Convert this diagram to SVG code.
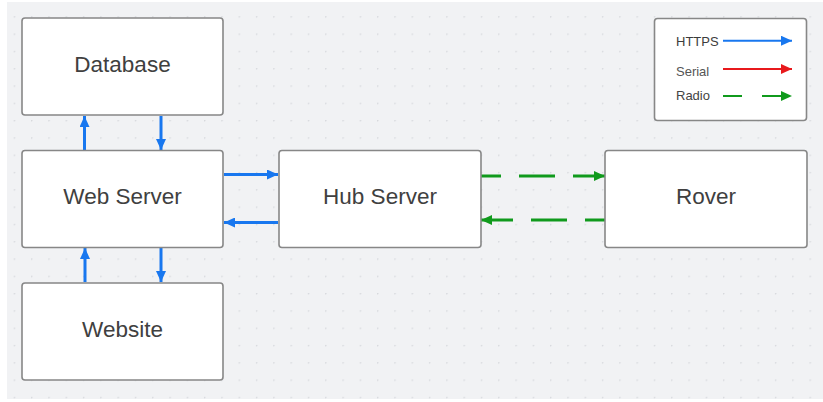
<svg xmlns="http://www.w3.org/2000/svg" width="823" height="402" viewBox="0 0 823 402">
<defs>
<pattern id="dots" x="13.7" y="16.2" width="17.3" height="17.3" patternUnits="userSpaceOnUse">
<circle cx="0.6" cy="0.6" r="0.9" fill="#d6d8dc"/>
</pattern>
<marker id="ab" markerUnits="userSpaceOnUse" markerWidth="12" markerHeight="10" refX="11" refY="5" orient="auto">
<path d="M0,0 L11,5 L0,10 Z" fill="#1877ef"/>
</marker>
<marker id="ag" markerUnits="userSpaceOnUse" markerWidth="12" markerHeight="10" refX="11" refY="5" orient="auto">
<path d="M0,0 L11,5 L0,10 Z" fill="#109a1c"/>
</marker>
<marker id="ar" markerUnits="userSpaceOnUse" markerWidth="12" markerHeight="10" refX="11" refY="5" orient="auto">
<path d="M0,0 L11,5 L0,10 Z" fill="#e8191c"/>
</marker>
</defs>
<style>
.box{fill:#ffffff;stroke:#878787;stroke-width:1.6}
.lbl{font-family:"Liberation Sans",Arial,sans-serif;font-size:22.5px;fill:#404040;text-anchor:middle}
.leg{font-family:"Liberation Sans",Arial,sans-serif;font-size:13px;fill:#3c3c3c}
.blue{stroke:#1877ef;stroke-width:3;fill:none;marker-end:url(#ab)}
.green{stroke:#109a1c;stroke-width:3;fill:none;marker-end:url(#ag);stroke-dasharray:36 18;stroke-dashoffset:16}
</style>
<rect x="0" y="0" width="823" height="402" fill="#ffffff"/>
<rect x="7" y="2" width="816" height="397" fill="#f1f2f4"/>
<rect x="7" y="2" width="816" height="397" fill="url(#dots)"/>

<g id="connectors">
<line class="blue" x1="84.5" y1="150" x2="84.5" y2="116"/>
<line class="blue" x1="161" y1="116" x2="161" y2="150"/>
<line class="blue" x1="85" y1="282" x2="85" y2="248"/>
<line class="blue" x1="161" y1="248" x2="161" y2="282"/>
<line class="blue" x1="224" y1="174.5" x2="278" y2="174.5"/>
<line class="blue" x1="278" y1="222.5" x2="224" y2="222.5"/>
<line class="green" x1="481" y1="176" x2="605" y2="176"/>
<line class="green" x1="605" y1="220" x2="481" y2="220"/>
</g>

<g id="database">
<rect class="box" x="22" y="18" width="201" height="97" rx="3"/>
<text class="lbl" x="122.5" y="71.5">Database</text>
</g>
<g id="webserver">
<rect class="box" x="22" y="150.5" width="201" height="97" rx="3"/>
<text class="lbl" x="122.5" y="203.5">Web Server</text>
</g>
<g id="website">
<rect class="box" x="22" y="283" width="201" height="97" rx="3"/>
<text class="lbl" x="122.5" y="336.5">Website</text>
</g>
<g id="hubserver">
<rect class="box" x="279" y="150.5" width="202" height="97" rx="3"/>
<text class="lbl" x="380" y="203.5">Hub Server</text>
</g>
<g id="rover">
<rect class="box" x="605" y="150.5" width="202" height="97" rx="3"/>
<text class="lbl" x="706" y="203.5">Rover</text>
</g>

<g id="legend">
<rect class="box" x="654.5" y="18.5" width="152" height="102" rx="3"/>
<text class="leg" x="676" y="46" fill="#2e2e2e">HTTPS</text>
<text class="leg" x="676" y="75.5" style="fill:#555">Serial</text>
<text class="leg" x="676" y="100" style="fill:#444">Radio</text>
<line x1="723" y1="40.7" x2="792" y2="40.7" stroke="#1877ef" stroke-width="2" marker-end="url(#ab)"/>
<line x1="723" y1="69" x2="792" y2="69" stroke="#e8191c" stroke-width="2" marker-end="url(#ar)"/>
<line x1="723" y1="96" x2="792" y2="96" stroke="#109a1c" stroke-width="2" stroke-dasharray="19 20" marker-end="url(#ag)"/>
</g>
</svg>
